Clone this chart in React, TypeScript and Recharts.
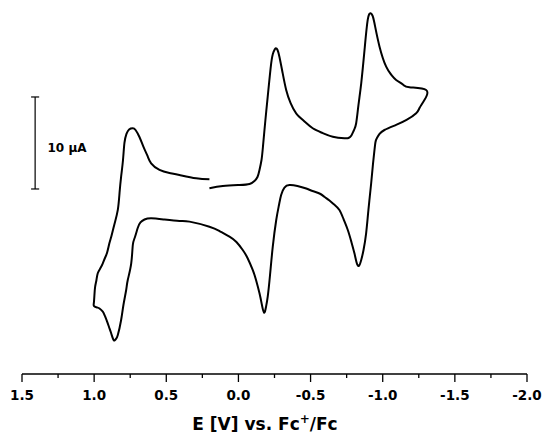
import { LineChart, Line, XAxis, YAxis, ReferenceLine } from 'recharts';

// potential (V vs Fc+/Fc) and current (µA, cathodic up)
const sweepOutE = [0.201, 0.108, -0.007, -0.077, -0.111, -0.132, -0.146, -0.16, -0.17, -0.187, -0.203, -0.227, -0.243, -0.257, -0.271, -0.284, -0.305, -0.331, -0.361, -0.4, -0.458, -0.515, -0.582, -0.654, -0.735, -0.763, -0.783, -0.801, -0.816, -0.832, -0.851, -0.874, -0.896, -0.915, -0.929, -0.943, -0.978, -1.024, -1.06, -1.093, -1.14, -1.185, -1.301];
const sweepOutI = [0.08, 0.33, 0.43, 0.54, 0.87, 1.3, 2.07, 3.15, 4.6, 7.5, 10.03, 13.66, 14.89, 15.29, 15.11, 14.38, 12.72, 10.76, 9.35, 8.23, 7.34, 6.6, 6.09, 5.68, 5.51, 5.54, 5.82, 6.41, 7.14, 9.13, 11.49, 15.11, 18.37, 19.1, 18.86, 18.01, 15.47, 13.29, 12.4, 11.85, 11.35, 11.05, 10.76];

const sweepBackE = [-1.289, -1.255, -1.232, -1.165, -1.093, -1.012, -0.978, -0.96, -0.95, -0.943, -0.932, -0.92, -0.901, -0.885, -0.867, -0.851, -0.834, -0.818, -0.804, -0.783, -0.758, -0.728, -0.7, -0.666, -0.631, -0.596, -0.562, -0.513, -0.47, -0.409, -0.354, -0.319, -0.296, -0.281, -0.262, -0.238, -0.219, -0.203, -0.191, -0.178, -0.163, -0.146, -0.122, -0.099, -0.063, -0.03, 0.014, 0.062, 0.131, 0.201, 0.339, 0.409, 0.512, 0.605, 0.651, 0.679, 0.698, 0.717, 0.732, 0.743, 0.767, 0.778, 0.797, 0.813, 0.836, 0.849, 0.859, 0.869, 0.882, 0.897, 0.91, 0.928, 0.94, 0.963, 0.98, 1.001];
const sweepBackI = [9.67, 8.8, 8.23, 7.5, 6.96, 6.41, 5.98, 5.54, 5.11, 4.24, 2.61, 0.62, -2.28, -4.82, -6.63, -7.72, -8.37, -7.93, -6.99, -5.76, -4.46, -3.26, -2.28, -1.72, -1.25, -0.85, -0.49, -0.22, 0.05, 0.33, 0.43, 0.16, -0.65, -1.74, -3.37, -6.27, -9.35, -11.71, -12.83, -13.45, -12.61, -11.34, -9.89, -8.8, -7.5, -6.63, -5.76, -5.18, -4.57, -4.1, -3.55, -3.48, -3.32, -3.18, -3.32, -3.64, -4.24, -5.22, -6.09, -8.08, -9.89, -10.98, -12.61, -14.24, -15.87, -16.3, -16.47, -16.3, -15.68, -15.0, -14.42, -13.7, -13.34, -12.99, -12.88, -12.72];

const sweepReturnE = [1.002, 0.998, 0.993, 0.984, 0.975, 0.956, 0.94, 0.925, 0.91, 0.894, 0.88, 0.859, 0.836, 0.824, 0.813, 0.8, 0.79, 0.776, 0.758, 0.732, 0.713, 0.686, 0.658, 0.63, 0.605, 0.547, 0.478, 0.409, 0.293, 0.201];
const sweepReturnI = [-12.39, -11.52, -10.62, -9.89, -9.16, -8.59, -8.08, -7.5, -6.9, -5.87, -5.11, -3.8, -2.28, -0.43, 1.34, 3.15, 5.0, 5.98, 6.47, 6.6, 6.41, 5.65, 4.57, 3.59, 2.79, 2.07, 1.74, 1.52, 1.16, 1.05];

const majorTicks = [1.5, 1.0, 0.5, 0.0, -0.5, -1.0, -1.5, -2.0];
const majorLabels = ['1.5', '1.0', '0.5', '0.0', '-0.5', '-1.0', '-1.5', '-2.0'];
const minorTicks = [1.25, 0.75, 0.25, -0.25, -0.75, -1.25, -1.75];

// 10 µA scale bar
const scaleBarE = 1.409;
const scaleBarI = [0, 10];

const toPoints = (es: number[], is: number[]) => es.map((E, k) => ({ E, i: is[k] }));

const data = [
  ...toPoints(sweepOutE, sweepOutI),
  ...toPoints(sweepBackE, sweepBackI),
  ...toPoints(sweepReturnE, sweepReturnI),
];

const allTicks = [...majorTicks, ...minorTicks].sort((a, b) => b - a);

const FONT = '"DejaVu Sans", Verdana, sans-serif';

function PotentialTick(props: any) {
  const { x, y, payload } = props;
  const idx = majorTicks.findIndex((t) => Math.abs(t - payload.value) < 1e-6);
  const major = idx >= 0;
  return (
    <g>
      <line x1={x} x2={x} y1={y} y2={y + (major ? 8 : 4)} stroke="#000" strokeWidth={1.3} />
      {major && (
        <text x={x} y={y + 26} textAnchor="middle" fontFamily={FONT} fontWeight="bold" fontSize={13.5} fill="#000">
          {majorLabels[idx]}
        </text>
      )}
    </g>
  );
}

export default function App() {
  return (
    <div style={{ position: 'absolute', left: 0, top: 0, width: 545, height: 438, background: '#fff' }}>
      <LineChart width={545} height={438} data={data} margin={{ top: 0, right: 18, left: 22, bottom: 0 }}>
        <XAxis
          dataKey="E"
          type="number"
          domain={[-2, 1.5]}
          reversed
          allowDataOverflow
          ticks={allTicks}
          interval={0}
          height={64}
          tickSize={0}
          tickMargin={0}
          tickLine={false}
          axisLine={{ stroke: '#000', strokeWidth: 1.3 }}
          tick={<PotentialTick />}
        />
        <YAxis type="number" domain={[-20.11, 20.54]} allowDataOverflow hide />
        <ReferenceLine
          segment={[{ x: scaleBarE, y: scaleBarI[0] }, { x: scaleBarE, y: scaleBarI[1] }]}
          stroke="#000"
          strokeWidth={1.2}
        />
        <ReferenceLine
          segment={[{ x: scaleBarE + 0.028, y: scaleBarI[0] }, { x: scaleBarE - 0.028, y: scaleBarI[0] }]}
          stroke="#000"
          strokeWidth={1.2}
        />
        <ReferenceLine
          segment={[{ x: scaleBarE + 0.028, y: scaleBarI[1] }, { x: scaleBarE - 0.028, y: scaleBarI[1] }]}
          stroke="#000"
          strokeWidth={1.2}
        />
        <Line
          dataKey="i"
          type="natural"
          stroke="#000"
          strokeWidth={2}
          strokeLinejoin="round"
          dot={false}
          activeDot={false}
          isAnimationActive={false}
        />
      </LineChart>
      <div
        style={{
          position: 'absolute',
          left: 47.5,
          top: 141.6,
          fontFamily: FONT,
          fontWeight: 'bold',
          fontSize: 12,
          lineHeight: '12px',
          whiteSpace: 'nowrap',
        }}
      >
        10 μA
      </div>
      <div
        style={{
          position: 'absolute',
          left: 165,
          width: 200,
          top: 415.6,
          textAlign: 'center',
          fontFamily: FONT,
          fontWeight: 'bold',
          fontSize: 17,
          lineHeight: '17px',
          whiteSpace: 'nowrap',
        }}
      >
        E [V] vs. Fc<sup style={{ fontSize: 12, lineHeight: 0 }}>+</sup>/Fc
      </div>
    </div>
  );
}
